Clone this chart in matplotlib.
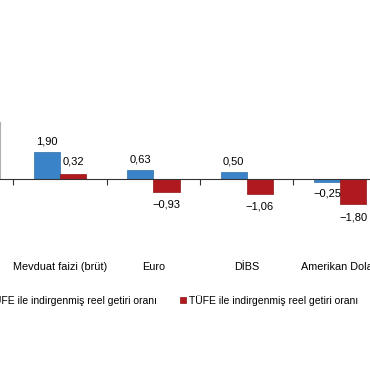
import numpy as np
import matplotlib
matplotlib.use("Agg")
import matplotlib.pyplot as plt

plt.rcParams['font.family'] = ['Liberation Sans', 'DejaVu Sans']

# data
categories = ['Mevduat faizi (brüt)', 'Euro', 'DİBS', 'Amerikan Doları']
ufe_values = [1.90, 0.63, 0.50, -0.25]
tufe_values = [0.32, -0.93, -1.06, -1.80]
series_names = ['ÜFE ile indirgenmiş reel getiri oranı', 'TÜFE ile indirgenmiş reel getiri oranı']

blue = '#3a83c9'
red = '#b01a1e'

fig = plt.figure(figsize=(3.7, 3.8), dpi=100)
ax = fig.add_axes([0, 0.447, 1, 0.2316])

x = np.arange(len(categories))
w = 0.28
b1 = ax.bar(x - w / 2, ufe_values, w, color=blue, edgecolor='#2f6fa8', linewidth=0.5, label=series_names[0])
b2 = ax.bar(x + w / 2, tufe_values, w, color=red, edgecolor='#8e1416', linewidth=0.5, label=series_names[1])

fmt = lambda v: ('%.2f' % v).replace('.', ',').replace('-', '\u2212')
ax.bar_label(b1, labels=[fmt(v) for v in ufe_values], padding=4, fontsize=8)
ax.bar_label(b2, labels=[fmt(v) for v in tufe_values], padding=5.5, fontsize=8)

# axis at zero with ticks on category boundaries
ax.spines['bottom'].set_position(('data', 0))
ax.spines['bottom'].set_color('#333333')
for s in ['top', 'right']:
    ax.spines[s].set_visible(False)
ax.spines['left'].set_color('#b0b0b0')
ax.spines['left'].set_bounds(0, 4.0)
ax.set_yticks([])

ax.set_xticks(np.arange(-0.5, len(categories), 1.0))
ax.set_xticklabels([])
ax.tick_params(axis='x', which='major', length=4, direction='out', color='#333333')
ax.set_xticks(x, minor=True)
ax.set_xticklabels(categories, minor=True, fontsize=7.8)
ax.tick_params(axis='x', which='minor', length=0, pad=60)

ax.set_xlim(-0.643, 3.32)
ax.set_ylim(-2.2, 4.0)

fig.legend(handles=[b1, b2], loc='center left', bbox_to_anchor=(-0.0675, 0.21), ncol=2, frameon=False,
           fontsize=7.5, handlelength=0.6, handleheight=0.6, handletextpad=0.3, columnspacing=2.2)

fig.savefig('out.png', dpi=100)
